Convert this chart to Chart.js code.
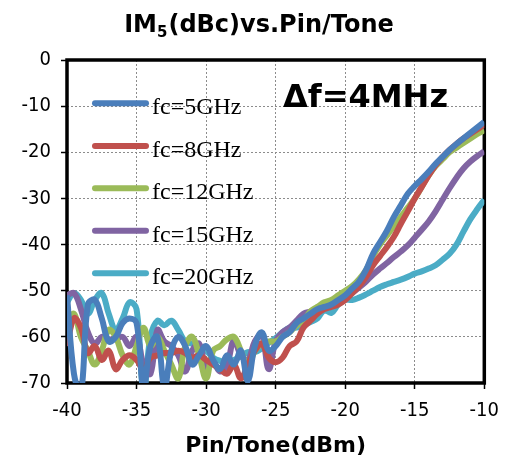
<!DOCTYPE html>
<html>
<head>
<meta charset="utf-8">
<script src="https://cdn.jsdelivr.net/npm/chart.js@4.4.0/dist/chart.umd.min.js"></script>
<style>
  html, body { margin: 0; padding: 0; background: #ffffff; }
  #wrap { width: 509px; height: 464px; }
</style>
</head>
<body>
<div id="wrap"><canvas id="c" width="509" height="464"></canvas></div>
<script>
// Input power per tone (dBm)
const pinTone = [
  -40, -39.5, -39, -38.5, -38, -37.5, -37, -36.5, -36, -35.5,
  -35, -34.5, -34, -33.5, -33, -32.5, -32, -31.5, -31, -30.5,
  -30, -29.5, -29, -28.5, -28, -27.5, -27, -26.5, -26, -25.5,
  -25, -24.5, -24, -23.5, -23, -22.5, -22, -21.5, -21, -20.5,
  -20, -19.5, -19, -18.5, -18, -17.5, -17, -16.5, -16, -15.5,
  -15, -14.5, -14, -13.5, -13, -12.5, -12, -11.5, -11, -10.5, -10
];

// IM5 (dBc) for each carrier frequency
const im5_fc5 = [
  -51, -68, -72, -53, -52, -56, -61, -60, -57, -56,
  -57, -71, -62, -60, -71, -63, -60, -62, -66, -64,
  -62, -65, -67, -64, -66, -63, -69.5, -62, -59, -63,
  -62, -60, -59, -57, -56, -55, -54, -53.5, -53, -52,
  -51, -49.5, -48, -45.5, -42, -39.5, -37, -34, -31.5, -29,
  -27.3, -25.8, -24.2, -22.5, -21, -19.5, -18.2, -17, -15.8, -14.6, -13.4
];
const im5_fc8 = [
  -62, -56, -58, -63.5, -62, -65, -63, -67, -65, -64,
  -65, -67, -64.5, -64, -63.5, -63.5, -63, -63.5, -64.5, -64,
  -65, -66, -67, -68, -66, -69, -66, -63, -61.5, -64.5,
  -65.5, -64.5, -62, -61, -58, -56.5, -55, -54, -53.5, -53,
  -52, -50.5, -49, -47, -44.5, -42.5, -40.5, -38.3, -35.5, -32.8,
  -30, -27.5, -25, -22.8, -21, -19.5, -18.2, -17, -16, -15, -14
];
const im5_fc12 = [
  -58, -55, -60, -63, -66, -63, -58.5, -60, -64, -66,
  -62, -58, -62, -60, -63, -66, -69, -62, -60, -64,
  -69, -63, -62, -60.5, -60, -63, -66.5, -63, -61.5, -61,
  -61, -60, -59, -57.5, -56.5, -54.5, -53.5, -52.5, -52, -51,
  -50, -49, -47.5, -45.5, -42.5, -40, -38, -36, -34, -32,
  -30, -27.5, -25, -23, -21.5, -20, -19, -18, -17, -16, -15.2
];
const im5_fc15 = [
  -51, -50.5, -54, -59, -61.5, -60, -60.5, -60.5, -60, -62,
  -60, -66, -68, -58.5, -61, -62, -64, -67.5, -63, -61.5,
  -66.5, -65.5, -67.5, -66, -60.7, -64, -65, -61, -59.5, -67,
  -61, -59, -58, -56.5, -55, -54.5, -54, -53.5, -53, -52.3,
  -51.6, -50.5, -49.3, -48, -46.5, -45.2, -44, -42.7, -41.5, -40.2,
  -38.5, -36.8, -35, -32.8, -30.3, -27.8, -25.5, -23.5, -22, -20.8, -19.8
];
const im5_fc20 = [
  -52.5, -50.5, -52, -55, -52, -50.5, -55, -58.5, -56, -52.5,
  -54, -72, -60, -56.5, -57.5, -56.5, -58.5, -61, -61.5, -62.3,
  -63, -64.5, -65.2, -65.5, -65, -64.2, -63.3, -63.3, -62.5, -61.3,
  -60.3, -59, -58, -58, -57.5, -56.8, -56, -54.2, -54.8, -53,
  -52, -52, -51.5, -50.8, -50, -49.2, -48.6, -48.1, -47.6, -47,
  -46.3, -45.8, -45.2, -44.5, -43.3, -42, -40, -37.2, -34.5, -32.3, -30.3
];

const seriesLabels = ['fc=5GHz', 'fc=8GHz', 'fc=12GHz', 'fc=15GHz', 'fc=20GHz'];
const seriesColors = ['#4a7ebb', '#c0504d', '#9bbb59', '#8064a2', '#4bacc6'];
const seriesValues = [im5_fc5, im5_fc8, im5_fc12, im5_fc15, im5_fc20];

const xTicks = [-40, -35, -30, -25, -20, -15, -10];
const yTicks = [0, -10, -20, -30, -40, -50, -60, -70];

const chartTitle = ['IM', '5', '(dBc)vs.Pin/Tone'];
const xAxisTitle = 'Pin/Tone(dBm)';
const noteText = 'Δf=4MHz';

const tickFont = { family: "'DejaVu Sans Condensed', 'DejaVu Sans', sans-serif", size: 20 };
const boldFamily = "'DejaVu Sans', sans-serif";

// Frame, title, legend and the Δf note
const decorations = {
  id: 'decorations',
  beforeDatasetsDraw(chart) {
    const { ctx, chartArea: a } = chart;
    ctx.save();
    ctx.strokeStyle = '#000';
    ctx.lineWidth = 3.5;
    ctx.strokeRect(a.left, a.top, a.right - a.left, a.bottom - a.top);
    ctx.restore();
  },
  afterDraw(chart) {
    const { ctx } = chart;
    ctx.save();
    ctx.fillStyle = '#000';
    ctx.textBaseline = 'alphabetic';

    // title with subscript
    const big = 'bold 24px ' + boldFamily;
    const small = 'bold 15px ' + boldFamily;
    ctx.font = big;
    const w1 = ctx.measureText(chartTitle[0]).width;
    const w3 = ctx.measureText(chartTitle[2]).width;
    ctx.font = small;
    const w2 = ctx.measureText(chartTitle[1]).width + 1;
    let tx = 259 - (w1 + w2 + w3) / 2;
    const ty = 32;
    ctx.font = big;
    ctx.fillText(chartTitle[0], tx, ty);
    tx += w1;
    ctx.font = small;
    ctx.fillText(chartTitle[1], tx, ty + 5);
    tx += w2;
    ctx.font = big;
    ctx.fillText(chartTitle[2], tx, ty);

    // note
    ctx.font = 'bold 32px ' + boldFamily;
    ctx.fillText(noteText, 283, 107);

    // legend
    const rowY = [103.3, 146, 188.3, 230.7, 273.3];
    chart.data.datasets.forEach((ds, i) => {
      const y = rowY[i];
      ctx.strokeStyle = ds.borderColor;
      ctx.lineWidth = 6;
      ctx.lineCap = 'round';
      ctx.beginPath();
      ctx.moveTo(95, y);
      ctx.lineTo(146, y);
      ctx.stroke();
      ctx.fillStyle = '#000';
      ctx.font = "24px 'Liberation Serif', serif";
      ctx.fillText(ds.label, 152, y + 11);
    });
    ctx.restore();
  }
};

const gridOpts = {
  color: '#8c8c8c',
  lineWidth: 1,
  drawTicks: true,
  tickLength: 6,
  tickColor: '#000',
  tickWidth: 1.5,
  tickBorderDash: []
};

new Chart(document.getElementById('c'), {
  type: 'line',
  data: {
    datasets: seriesValues.map((vals, i) => ({
      label: seriesLabels[i],
      data: vals.map((v, k) => ({ x: pinTone[k], y: v })),
      borderColor: seriesColors[i],
      backgroundColor: seriesColors[i],
      borderWidth: 6,
      pointRadius: 0,
      tension: 0.4,
      fill: false
    }))
  },
  options: {
    responsive: false,
    animation: false,
    events: [],
    layout: { padding: { left: 0, right: 17, top: 60, bottom: 0 } },
    plugins: {
      legend: { display: false },
      title: { display: false },
      tooltip: { enabled: false }
    },
    scales: {
      x: {
        type: 'linear',
        min: -40,
        max: -10,
        afterBuildTicks(scale) { scale.ticks = xTicks.map(v => ({ value: v })); },
        afterFit(scale) { scale.height = 81; },
        border: { display: false, dash: [2, 2] },
        grid: gridOpts,
        ticks: {
          color: '#000',
          font: tickFont,
          padding: 10,
          maxRotation: 0,
          callback: v => String(v)
        },
        title: {
          display: true,
          text: xAxisTitle,
          color: '#000',
          font: { family: boldFamily, size: 22, weight: 'bold' },
          padding: { top: 0, bottom: 5 }
        }
      },
      y: {
        type: 'linear',
        min: -70,
        max: 0,
        afterBuildTicks(scale) { scale.ticks = yTicks.map(v => ({ value: v })); },
        afterFit(scale) { scale.width = 67; },
        border: { display: false, dash: [2, 2] },
        grid: gridOpts,
        ticks: {
          color: '#000',
          font: tickFont,
          padding: 10,
          callback: v => String(v)
        }
      }
    }
  },
  plugins: [decorations]
});
</script>
</body>
</html>
